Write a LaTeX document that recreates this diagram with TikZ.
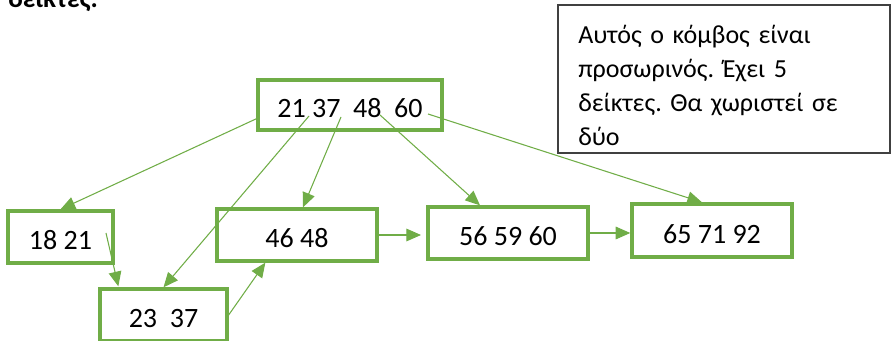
\documentclass[tikz,border=0pt]{standalone}
\usepackage{fontspec}
\setmainfont{Carlito}
\usetikzlibrary{arrows.meta,calc}
\definecolor{grn}{HTML}{70AD47}
\definecolor{cmtgray}{HTML}{404040}
\frenchspacing
\begin{document}
\begin{tikzpicture}[x=0.75pt,y=-0.75pt,
  box/.style={draw=grn,line width=2.5pt,fill=white,inner sep=0pt,
    font=\fontsize{21}{25}\selectfont,text height=19pt,text depth=0pt},
  conn/.style={draw=grn,line width=0.8pt,-{Triangle[length=11pt,width=9.5pt]}},
  cmtbox/.style={draw=cmtgray,line width=1.1pt,fill=white,inner sep=0pt,
    minimum width=249pt,minimum height=111pt},
  cmttext/.style={anchor=north west,inner sep=0pt,text width=230pt,align=left,
    font=\fontsize{19.5}{25.5}\selectfont},
]
\useasboundingbox (0,0) rectangle (892,341);

% partially visible heading
\node[anchor=base west,inner sep=0pt,font=\fontsize{20.5}{25}\selectfont\bfseries] (head) at (8,8) {δείκτες.};

% nodes
\node[box,minimum width=138pt,minimum height=37.5pt] (root) at (350,105) {21 37\ \ 48\ \ 60};
\node[box,minimum width=78.75pt,minimum height=39pt] (a) at (60.5,237) {18 21};
\node[box,minimum width=95.25pt,minimum height=39pt] (b) at (163.5,315) {23\ \ 37};
\node[box,minimum width=120pt,minimum height=39pt] (c) at (297,235) {46 48};
\node[box,minimum width=120pt,minimum height=39pt] (d) at (508,233) {56 59 60};
\node[box,minimum width=120pt,minimum height=39.75pt] (e) at (712,230.5) {65 71 92};

% start points of connectors
\coordinate (r1) at (258,118);
\coordinate (r2) at (309,116);
\coordinate (r3) at (341,117);
\coordinate (r4) at (380,115);
\coordinate (r5) at (428,114);
\coordinate (a1) at (106,233);

% connectors
\draw[conn] (r1) -- (a.north);
\draw[conn] (r2) -- (b.north);
\draw[conn] (r3) -- ($(c.north)+(6,0)$);
\draw[conn] (r4) -- ($(d.north)+(-28,0)$);
\draw[conn] (r5) -- ($(e.north)+(-10,0)$);
\draw[conn] (a1) -- ($(b.north west)+(20,-1)$);
\draw[conn] (b.east) -- ($(c.south west)+(50,0)$);
\draw[conn,shorten >=4pt] (c.east) -- (d.west |- c.east);
\draw[conn] (d.east) -- (e.west |- d.east);

% comment box
\node[cmtbox] (cmt) at (724,79) {};
\node[cmttext] (cmtt) at (578,16.3) {\rule{0pt}{20pt}Αυτός ο κόμβος είναι\\προσωρινός. Έχει 5\\δείκτες. Θα χωριστεί σε\\δύο};
\end{tikzpicture}
\end{document}
